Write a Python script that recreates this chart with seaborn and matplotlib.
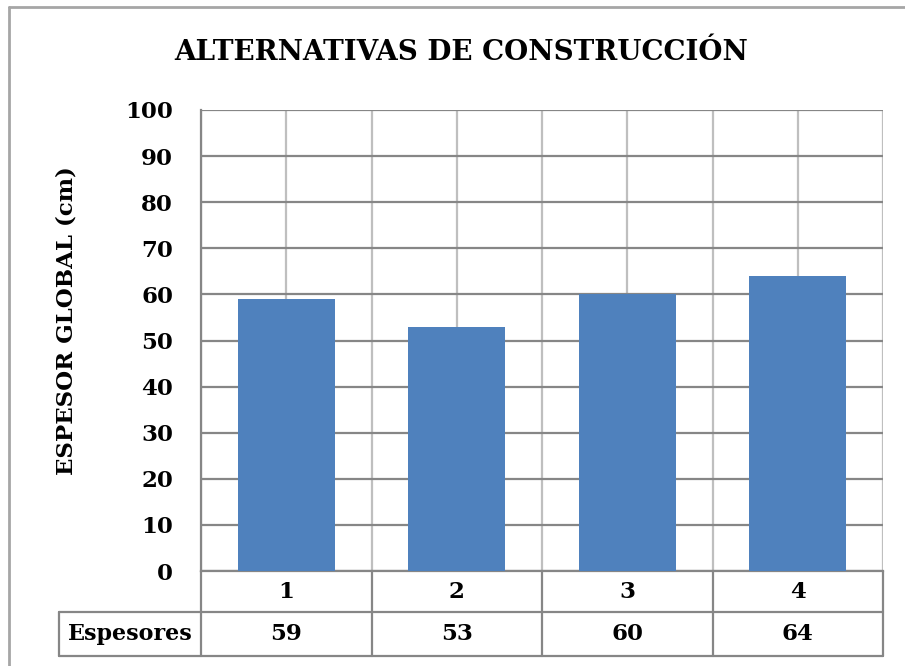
import numpy as np
import pandas as pd
import seaborn as sns
import matplotlib.pyplot as plt
import matplotlib.transforms as mtransforms
from matplotlib.lines import Line2D

categories = ['1', '2', '3', '4']
espesores = [59, 53, 60, 64]
y_ticks = [0, 10, 20, 30, 40, 50, 60, 70, 80, 90, 100]
title = 'ALTERNATIVAS DE CONSTRUCCIÓN'
y_label = 'ESPESOR GLOBAL (cm)'
row_label = 'Espesores'

W, H = 905, 666
bar_color = '#4F81BD'
dark_grid = '#868686'
light_grid = '#BFBFBF'

sns.set_style('white')
plt.rcParams['font.family'] = ['DejaVu Serif']
plt.rcParams['font.weight'] = 'bold'
plt.rcParams['text.color'] = 'black'
plt.rcParams['ytick.color'] = 'black'
plt.rcParams['ytick.labelcolor'] = 'black'

fig = plt.figure(figsize=(W / 100, H / 100), dpi=100)
ax = fig.add_axes([201 / W, 1 - 571 / H, 682 / W, 461 / H])

df = pd.DataFrame({'alternativa': categories, 'espesor': espesores})
sns.barplot(data=df, x='alternativa', y='espesor', color=bar_color,
            saturation=1, width=0.57, linewidth=0, ax=ax, zorder=3)

ax.set_xlim(-0.5, len(categories) - 0.5)
ax.set_ylim(0, 100)
ax.set_yticks(y_ticks)
ax.set_xticks(np.arange(-0.5, len(categories), 0.5))
ax.set_xticklabels([])
ax.tick_params(axis='both', length=0)
ax.tick_params(axis='y', pad=20, labelsize=16.5, labelcolor='black')
for t in ax.get_yticklabels():
    t.set_fontweight('bold')
ax.set_xlabel('')
ax.set_ylabel('')
ax.set_axisbelow(True)
ax.yaxis.grid(True, color=dark_grid, lw=1.6)
ax.xaxis.grid(True, color=light_grid, lw=1.6)
for side in ['top', 'right']:
    ax.spines[side].set_visible(False)
ax.spines['left'].set_color(dark_grid)
ax.spines['left'].set_linewidth(1.6)
ax.spines['bottom'].set_color(dark_grid)
ax.spines['bottom'].set_linewidth(1.6)

# data table below the axis
trans = mtransforms.blended_transform_factory(ax.transData, ax.transAxes)
r1 = -41 / 461
r2 = -85 / 461
n = len(categories)
line_kw = dict(color=dark_grid, lw=1.6, clip_on=False, transform=trans)
for i in range(n + 1):
    ax.plot([i - 0.5, i - 0.5], [0, r2], **line_kw)
x_left = -0.5 - 142 / (682 / n)
ax.plot([x_left, n - 0.5], [r1, r1], **line_kw)
ax.plot([x_left, n - 0.5], [r2, r2], **line_kw)
ax.plot([x_left, x_left], [r1, r2], **line_kw)
for i, (c, v) in enumerate(zip(categories, espesores)):
    ax.text(i, r1 / 2, c, transform=trans, ha='center', va='center',
            fontsize=16.5, fontweight='bold', color='black')
    ax.text(i, (r1 + r2) / 2, str(v), transform=trans, ha='center',
            va='center', fontsize=16.5, fontweight='bold', color='black')
ax.text((x_left - 0.5) / 2, (r1 + r2) / 2, row_label, transform=trans,
        ha='center', va='center', fontsize=16, fontweight='bold', color='black')

ax.text((67 - 201) / 682, (571 - 321) / 461, y_label, transform=ax.transAxes,
        rotation=90, ha='center', va='center', fontsize=16.5,
        fontweight='bold', color='black')

fig.text(461 / W, 1 - 52 / H, title, ha='center', va='center',
         fontsize=20, fontweight='bold', color='black')

# outer chart frame
fig.add_artist(Line2D([9 / W, 9 / W], [0, 1 - 7 / H], color='#A6A6A6', lw=2))
fig.add_artist(Line2D([9 / W, 1], [1 - 7 / H, 1 - 7 / H], color='#A6A6A6', lw=2))

fig.savefig('out.png', dpi=100)
